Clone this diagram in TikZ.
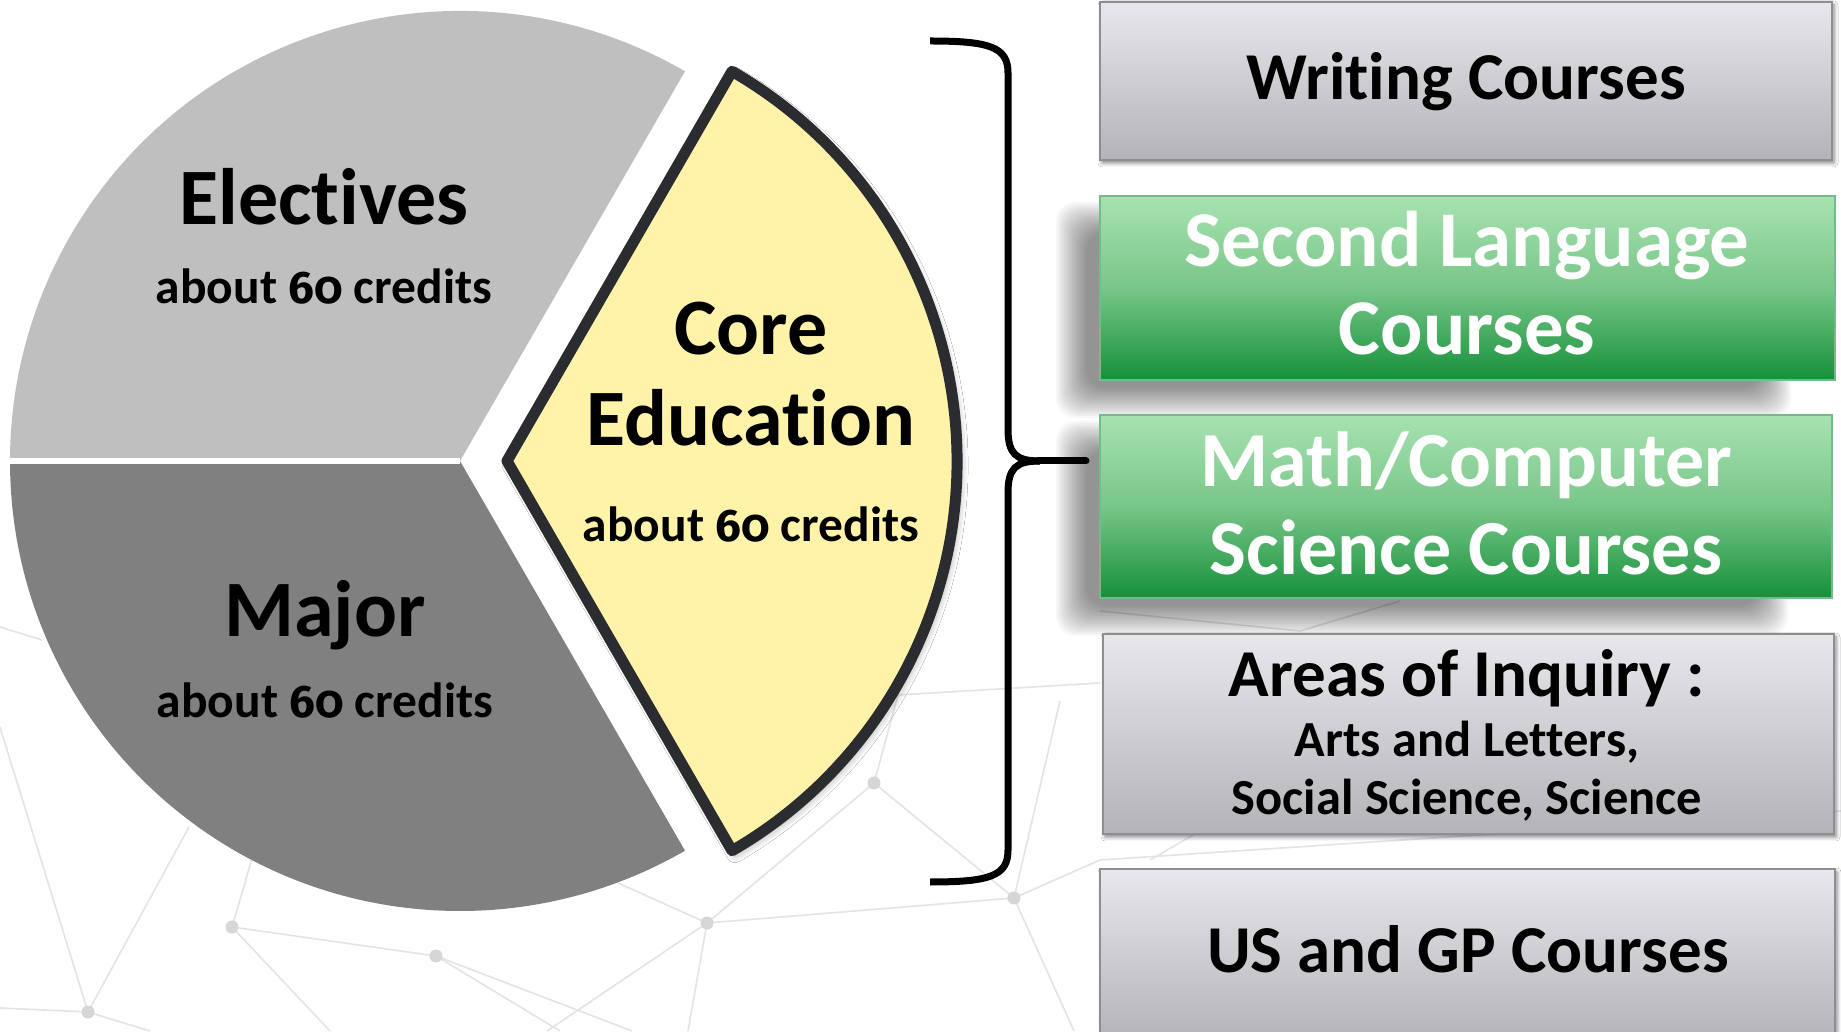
\documentclass[tikz,border=0pt]{standalone}
\usepackage{fontspec}
\setmainfont{Carlito}[Ligatures=NoCommon]
\newfontfamily\osf{Fira Sans}[Numbers=OldStyle, Scale=0.92]
\usetikzlibrary{shadows.blur}
\definecolor{elec}{HTML}{BFBFBF}
\definecolor{majorc}{HTML}{808080}
\definecolor{corefill}{HTML}{FFF2A9}
\definecolor{coreline}{HTML}{2B2C30}
\definecolor{netc}{HTML}{E4E4E4}
\definecolor{netdotc}{HTML}{D6D6D6}
\definecolor{gtop}{HTML}{E8E8EC}
\definecolor{gbot}{HTML}{B4B4B8}
\definecolor{gedge}{HTML}{8E8E92}
\definecolor{grtop}{HTML}{A8E2B2}
\definecolor{grmid}{HTML}{78C688}
\definecolor{grbot}{HTML}{15903A}
\newcommand{\sixty}{{\osf 60}}
\begin{document}
\begin{tikzpicture}[x=1pt,y=1pt,
  netline/.style={draw=netc, line width=1.6},
  netdot/.style={circle, fill=netdotc, inner sep=0pt, minimum size=13},
  graybox/.style={rectangle, inner sep=0pt, top color=gtop, bottom color=gbot, draw=gedge, line width=1.5,
     blur shadow={shadow xshift=2pt, shadow yshift=-3pt, shadow blur radius=4pt, shadow opacity=50}},
  greenbox/.style={rectangle, inner sep=0pt, top color=grtop, bottom color=grbot, middle color=grmid, draw=grbot!60!white, line width=1.5},
  softshadow/.style={fill=black, opacity=0.03},
  piebig/.style={anchor=base, inner sep=0pt, font=\bfseries\fontsize{80}{90}\selectfont},
  piesmall/.style={anchor=base, inner sep=0pt, font=\bfseries\fontsize{49.5}{60}\selectfont},
  boxtext/.style={anchor=base, inner sep=0pt, font=\bfseries\fontsize{#1}{#1}\selectfont},
  bracepath/.style={line width=7, draw=black, line cap=round}
]
\useasboundingbox (0,0) rectangle (1841,1031);
\fill[white] (0,0) rectangle (1841,1031);

% background network
\coordinate (nA) at (88,19);
\coordinate (nB) at (232,104);
\coordinate (nC) at (436,75);
\coordinate (nD) at (707,108);
\coordinate (nE) at (874,248);
\coordinate (nF) at (1014,133);
\draw[netline] (nB) -- (nC);
\draw[netline] (nD) -- (nF);
\draw[netline] (nE) -- (nF);
\draw[netline] (nD) -- (nE);
\draw[netline] (nB) -- (330,0);
\draw[netline] (nC) -- (632,0);
\draw[netline] (nC) -- (560,0);
\draw[netline] (nD) -- (618,148);
\draw[netline] (nD) -- (688,0);
\draw[netline] (nD) -- (547,0);
\draw[netline] (nA) -- (0,23);
\draw[netline] (nA) -- (0,304);
\draw[netline] (nA) -- (189,204);
\draw[netline] (nA) -- (150,0);
\draw[netline] (nB) -- (260,200);
\draw[netline] (898,336) -- (1100,348);
\draw[netline] (nE) -- (898,336);
\draw[netline] (nF) -- (1100,171);
\draw[netline] (nF) -- (1074,0);
\draw[netline] (nF) -- (1060,330);
\draw[netline] (0,404) -- (42,391);
\draw[netline] (1100,171) -- (1841,220);
\draw[netline] (1100,420) -- (1300,400) -- (1400,430);
\draw[netline] (1150,171) -- (1200,200);
\foreach \p in {nA,nB,nC,nD,nE,nF} \node[netdot] at (\p) {};

% pie
\fill[elec] (460,570) -- +(60:450) arc[start angle=60, end angle=180, radius=450] -- cycle;
\fill[majorc] (460,570) -- +(180:450) arc[start angle=180, end angle=300, radius=450] -- cycle;
\draw[white, line width=6] (460,570) -- (5,570);
\path[fill=corefill, draw=coreline, line width=11, line join=round,
      blur shadow={shadow xshift=3pt, shadow yshift=-4pt, shadow blur radius=8pt, shadow opacity=40}]
  (507,570) -- +(60:450) arc[start angle=60, end angle=-60, radius=450] -- cycle;

\node[piebig]   (elect)  at (324,806) {Electives};
\node[piesmall] (electc) at (324,727) {about \sixty\ credits};
\node[piebig]   (core1)  at (751,676) {Core};
\node[piebig]   (core2)  at (751,585) {Education};
\node[piesmall] (corec)  at (751,489) {about \sixty\ credits};
\node[piebig]   (major)  at (325,394) {Major};
\node[piesmall] (majorcr) at (325,313) {about \sixty\ credits};

% brace
\coordinate (brtop) at (930,990);
\coordinate (brtip) at (1086,570);
\coordinate (brbot) at (930,149);
\draw[bracepath, line cap=butt] (brtop) .. controls (990,990) and (1008,984) .. (1008,958) -- (1008,602)
   .. controls (1008,577) and (1016,570) .. (1040,570);
\draw[bracepath] (1038,570) -- (brtip);
\draw[bracepath, line cap=butt] (1040,570) .. controls (1016,570) and (1008,563) .. (1008,538) -- (1008,181)
   .. controls (1008,155) and (990,149) .. (brbot);

% soft shadows of the green boxes
\foreach \i in {0,...,15} {
  \fill[softshadow, rounded corners=20] (1100-28-16+2*\i, 651-22-16+2*\i) rectangle (1835-60+16-2*\i, 835-22+16-2*\i);
  \fill[softshadow, rounded corners=20] (1100-28-16+2*\i, 433-22-16+2*\i) rectangle (1832-60+16-2*\i, 616-22+16-2*\i);
}

% boxes
\node[graybox, minimum width=732, minimum height=158] (bw) at (1466,950) {};
\node[greenbox, minimum width=735, minimum height=184] (bs) at (1467.5,743) {};
\node[greenbox, minimum width=732, minimum height=183] (bm) at (1466,524.5) {};
\node[graybox, minimum width=731, minimum height=200] (ba) at (1468.5,297) {};
\node[graybox, minimum width=735, minimum height=171] (bu) at (1467.5,76.5) {};

\node[boxtext=67] (tw) at (1466,931) {Writing Courses};
\node[boxtext=79, text=white] (ts1) at (1467,764) {Second Language};
\node[boxtext=79, text=white] (ts2) at (1467,676) {Courses};
\node[boxtext=78, text=white] (tm1) at (1466,544) {Math/Computer};
\node[boxtext=78, text=white] (tm2) at (1466,456) {Science Courses};
\node[boxtext=67] (ta1) at (1467,334) {Areas of Inquiry :};
\node[boxtext=50.5] (ta2) at (1467,274) {Arts and Letters,};
\node[boxtext=50.5] (ta3) at (1467,216) {Social Science, Science};
\node[boxtext=67] (tu) at (1468,59) {US and GP Courses};
\end{tikzpicture}
\end{document}
